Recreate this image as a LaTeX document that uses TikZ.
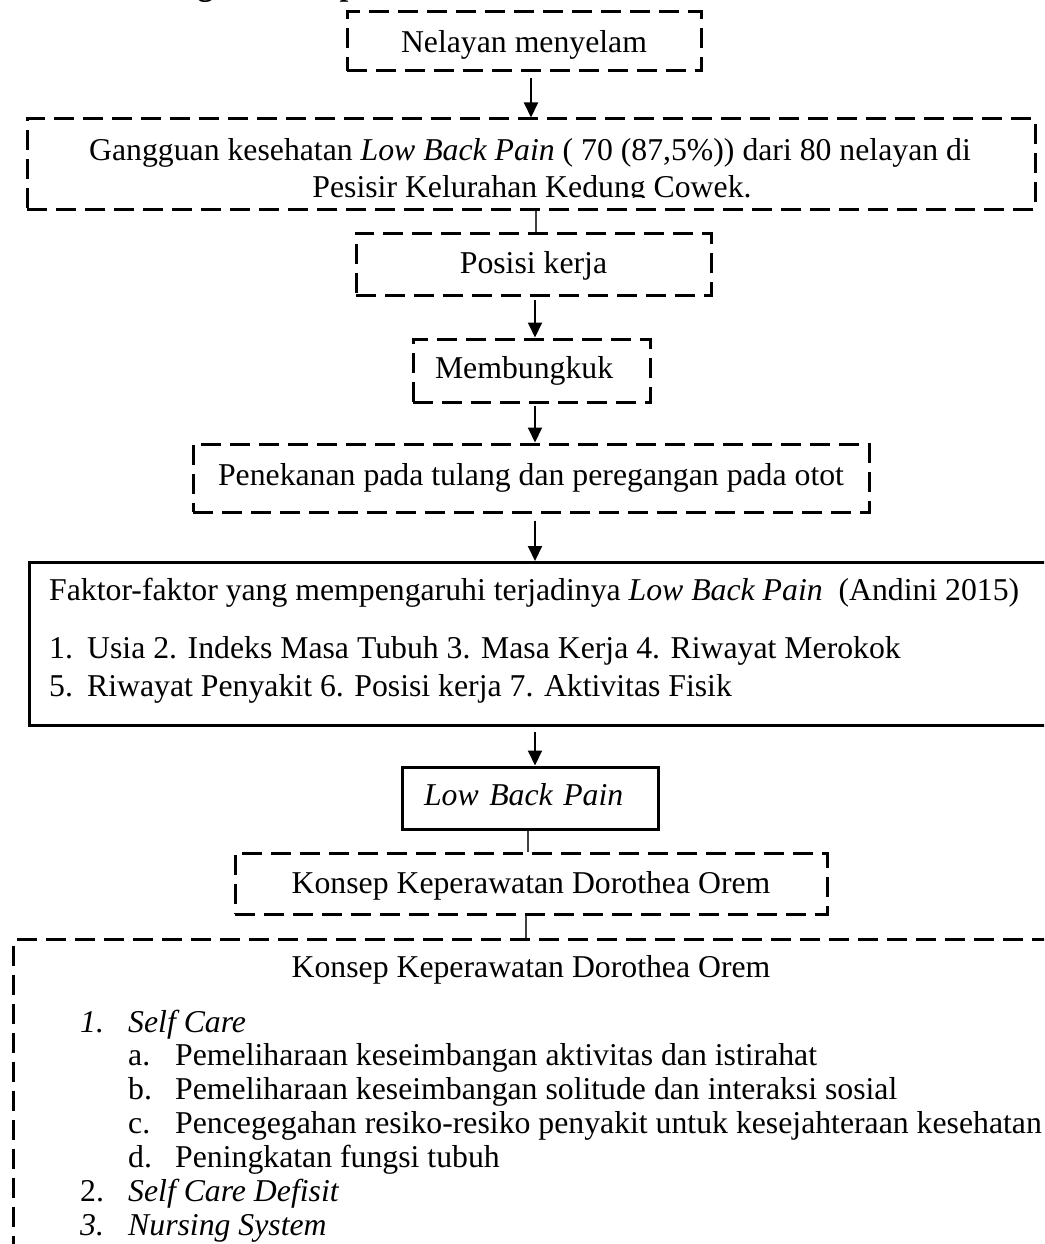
\documentclass[tikz,border=0pt]{standalone}
\usepackage{fontspec}
\setmainfont{Liberation Serif}
\usetikzlibrary{arrows.meta,positioning,calc}

\begin{document}
\begin{tikzpicture}[x=1pt,y=-1pt,font=\fontsize{31.75pt}{37pt}\selectfont]
  \tikzstyle{dashbox}=[shape=rectangle, draw, line width=3pt, dash pattern=on 20pt off 9pt, inner sep=0pt, text height=22pt, text depth=6pt]
  \tikzstyle{solidbox}=[shape=rectangle, draw, line width=3pt, inner sep=0pt, text height=22pt, text depth=6pt]
  \tikzstyle{textline}=[inner sep=0pt, anchor=base west]
  \tikzstyle{flow}=[line width=2pt, -{Triangle[length=15pt,width=14pt]}]
  \tikzstyle{joint}=[line width=1.3pt, color=black!75]

  \path[use as bounding box, clip] (0,0) rectangle (1044,1244);

  % heading, cut off at the top of the page
  \node[textline, font=\fontsize{31.75pt}{37pt}\selectfont\bfseries] (judul) at (111,-4) {Kerangka Konsep};

  \node[dashbox, minimum width=354pt, minimum height=59pt, text height=29pt] (nelayan) at (524,41.5) {Nelayan menyelam};
  \node[dashbox, minimum width=1008pt, minimum height=90pt] (gangguan) at (531,164) {};
  \begin{scope}
    \clip (27,119) rectangle (1035,197.5);
    \node[textline, anchor=base] (gangguan1) at (530,160) {Gangguan kesehatan \textit{Low Back Pain} ( 70 (87,5\%)) dari 80 nelayan di};
    \node[textline, anchor=base] (gangguan2) at (532,197) {Pesisir Kelurahan Kedung Cowek.};
  \end{scope}
  \node[dashbox, minimum width=355pt, minimum height=62pt, text height=24pt] (posisi) at (533.5,264) {Posisi kerja};
  \node[dashbox, text width=193pt, inner xsep=22pt, align=left, minimum height=63pt, text height=21pt] (bungkuk) at (531.5,370.5) {Membungkuk};
  \node[dashbox, minimum width=676pt, minimum height=68pt, text height=20pt] (tekan) at (531,478) {Penekanan pada tulang dan peregangan pada otot};

  \node[solidbox, anchor=north west, minimum width=1040pt, minimum height=163pt] (faktor) at (28,561) {};
  \node[textline] (faktor0) at (49,600) {Faktor-faktor yang mempengaruhi terjadinya \textit{Low Back Pain}~ (Andini 2015)};
  \node[textline] (faktor1) at (49,658) {1.};
  \node[textline] (faktor1t) at (87,658) {Usia 2. Indeks Masa Tubuh 3. Masa Kerja 4. Riwayat Merokok};
  \node[textline] (faktor5) at (49,696) {5.};
  \node[textline] (faktor5t) at (87,696) {Riwayat Penyakit 6. Posisi kerja 7. Aktivitas Fisik};

  \node[solidbox, text width=212pt, inner xsep=22pt, align=left, minimum height=62pt, text height=20pt] (lbp) at (530,798) {\textit{Low Back Pain}};
  \node[dashbox, minimum width=592pt, minimum height=61pt, text height=25pt] (konsep) at (531,883.5) {Konsep Keperawatan Dorothea Orem};

  \node[dashbox, anchor=north west, minimum width=1050pt, minimum height=330pt] (orem) at (12,938) {};
  \node[textline, anchor=base] (oremjudul) at (531,977) {Konsep Keperawatan Dorothea Orem};
  \node[textline] (orem1) at (80,1032) {\textit{1.}};
  \node[textline] (orem1t) at (128,1032) {\textit{Self Care}};
  \foreach \huruf/\isi [count=\i] in {a/Pemeliharaan keseimbangan aktivitas dan istirahat,
      b/Pemeliharaan keseimbangan solitude dan interaksi sosial,
      c/Pencegegahan resiko-resiko penyakit untuk kesejahteraan kesehatan,
      d/Peningkatan fungsi tubuh} {
    \node[textline] (sub\huruf) at (128,{1032+33.8*\i}) {\huruf.};
    \node[textline] (sub\huruf t) at (175,{1032+33.8*\i}) {\isi};
  }
  \node[textline] (orem2) at (80,1201) {2.};
  \node[textline] (orem2t) at (128,1201) {\textit{Self Care Defisit}};
  \node[textline] (orem3) at (80,1235) {\textit{3.}};
  \node[textline] (orem3t) at (128,1235) {\textit{Nursing System}};

  \draw[flow, shorten <=6pt] ([xshift=7pt]nelayan.south) -- ([xshift=7pt]nelayan.south |- gangguan.north);
  \draw[joint] ([xshift=2.5pt]posisi.north |- gangguan.south) -- ([xshift=2.5pt]posisi.north);
  \draw[flow, shorten <=3pt] ([xshift=1.5pt]posisi.south) -- ([xshift=1.5pt]posisi.south |- bungkuk.north);
  \draw[flow, shorten <=2pt] ([xshift=3.5pt]bungkuk.south) -- ([xshift=3.5pt]bungkuk.south |- tekan.north);
  \draw[flow, shorten <=7pt] ([xshift=4pt]tekan.south) -- ([xshift=4pt]tekan.south |- faktor.north);
  \draw[flow, shorten <=5pt] ([xshift=5pt]lbp.north |- faktor.south) -- ([xshift=5pt]lbp.north);
  \draw[joint] ([xshift=-2pt]lbp.south) -- ([xshift=-2pt]lbp.south |- konsep.north);
  \draw[joint] ([xshift=-5pt]konsep.south) -- ([xshift=-5pt]konsep.south |- orem.north);
\end{tikzpicture}
\end{document}
